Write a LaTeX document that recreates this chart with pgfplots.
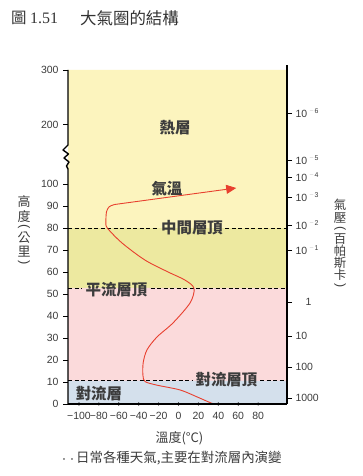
\documentclass[border=0pt]{standalone}
\usepackage{pgfplots}
\pgfplotsset{compat=1.18}
\usepackage{fontspec}
\setmainfont{Liberation Sans}
\newfontfamily\cjk{Noto Sans CJK TC}
\newfontfamily\sernum{Liberation Serif}
\usetikzlibrary{arrows.meta}
\definecolor{thermo}{HTML}{FCF4BE}
\definecolor{meso}{HTML}{EDE9A0}
\definecolor{strato}{HTML}{FBDADB}
\definecolor{tropo}{HTML}{D4E0EC}
\definecolor{tcurve}{HTML}{E8402F}
\definecolor{labgray}{HTML}{3C3C3C}
\newcommand{\pw}[1]{10\hspace{2.5bp}\raisebox{4bp}{\fontsize{7}{8}\selectfont\textcolor{black!22}{\char"2212}\hspace{0.8bp}#1}}
\pgfplotstableread{
x y
37 0
33 0.4
18.3 3.3
1.5 6.4
-21.9 8.6
-33.5 10.2
-35.7 13
-35.5 18.7
-31.7 24.6
-21.6 30.5
-5.5 36.9
11.6 46
15.6 52.6
6.5 56.4
-10.6 60.1
-33.7 65.5
-56.8 73.3
-71.5 80.1
-72.9 83
-72.3 87.5
-69.5 89.8
-64 90.8
}\tempcurve
\begin{document}
\begin{tikzpicture}[x=1bp,y=1bp]
\useasboundingbox (0,0) rectangle (362,476);
\fill[white] (0,0) rectangle (362,476);
\begin{axis}[
  at={(68bp,72bp)}, anchor=south west,
  width=219bp, height=334bp, scale only axis,
  xmin=-111, xmax=109, ymin=0, ymax=152,
  axis on top,
  axis x line*=bottom, axis y line*=left,
  y axis line style={draw=none},
  x axis line style={line width=1.4bp},
  ytick={0,10,...,100,127,152},
  yticklabels={0,10,20,30,40,50,60,70,80,90,100,200,300},
  xtick={-100,-80,...,80},
  xticklabels={−100,−80,−60,−40,−20,0,20,40,60,80},
  tick label style={font=\fontsize{10.5}{12}\selectfont, text=labgray},
  ytick style={black, line width=0.9bp},
  xtick style={draw=none},
  y tick label style={xshift=-1bp},
  major tick length=5bp,
  tick align=outside,
  /pgf/number format/assume math mode=true,
  clip=false,
]
\addplot[draw=none, fill=thermo] coordinates {(-111,80) (109,80) (109,152) (-111,152) (-111,80)};
\addplot[draw=none, fill=meso] coordinates {(-111,52.8) (109,52.8) (109,80) (-111,80) (-111,52.8)};
\addplot[draw=none, fill=strato] coordinates {(-111,10.5) (109,10.5) (109,52.8) (-111,52.8) (-111,10.5)};
\addplot[draw=none, fill=tropo] coordinates {(-111,0) (109,0) (109,10.5) (-111,10.5) (-111,0)};
% layer boundaries
\addplot[black, line width=0.9bp, dash pattern=on 4bp off 2.5bp] coordinates {(-111,80) (-20,80)};
\addplot[black, line width=0.9bp, dash pattern=on 4bp off 2.5bp] coordinates {(47,80) (109,80)};
\addplot[black, line width=0.9bp, dash pattern=on 4bp off 2.5bp] coordinates {(-111,52.8) (-97,52.8)};
\addplot[black, line width=0.9bp, dash pattern=on 4bp off 2.5bp] coordinates {(-28,52.8) (109,52.8)};
\addplot[black, line width=0.9bp, dash pattern=on 4bp off 2.5bp] coordinates {(-111,10.5) (15,10.5)};
\addplot[black, line width=0.9bp, dash pattern=on 4bp off 2.5bp] coordinates {(82,10.5) (109,10.5)};
% temperature
\addplot[tcurve, line width=0.9bp, smooth, tension=0.5] table {\tempcurve};
\addplot[tcurve, line width=0.9bp, -{Triangle[length=10bp,width=9bp]}] coordinates {(-64,90.8) (58,98.3)};
% x tick dots
\addplot[only marks, mark=*, mark size=1.3bp, black] coordinates {(-100,0) (-80,0) (-60,0) (-40,0) (-20,0) (0,0) (20,0) (40,0) (60,0) (80,0)};
% labels
\node[font=\cjk\bfseries\fontsize{15.5}{16}\selectfont, text=labgray] at (axis cs:-3.5,125.6) {熱層};
\node[font=\cjk\bfseries\fontsize{15.5}{16}\selectfont, text=labgray] at (axis cs:-11.6,97.8) {氣溫};
\node[font=\cjk\bfseries\fontsize{15.5}{16}\selectfont, text=labgray] at (axis cs:13.6,80.1) {中間層頂};
\node[font=\cjk\bfseries\fontsize{15.5}{16}\selectfont, text=labgray] at (axis cs:-62.3,51.9) {平流層頂};
\node[font=\cjk\bfseries\fontsize{15.5}{16}\selectfont, text=labgray] at (axis cs:48.2,10.9) {對流層頂};
\node[font=\cjk\bfseries\fontsize{15.5}{16}\selectfont, text=labgray] at (axis cs:-79.9,4.8) {對流層};
\end{axis}
\begin{axis}[
  at={(68bp,72bp)}, anchor=south west,
  width=219bp, height=334bp, scale only axis,
  xmin=-111, xmax=109, ymin=0, ymax=152,
  axis x line=none, axis y line*=right,
  y axis line style={line width=1.1bp},
  ytick={2.7,16.8,30.9,46.4,70,81.4,94.1,103.2,110.9,132.3},
  yticklabels={1000,100,10,\hspace{10bp}1,\pw{1},\pw{2},\pw{3},\pw{4},\pw{5},\pw{6}},
  ytick style={black, line width=0.9bp},
  major tick length=5bp,
  tick align=outside,
  tick label style={font=\fontsize{10.5}{12}\selectfont, text=labgray},
  /pgf/number format/assume math mode=true,
]
\end{axis}
% left axis with break
\draw[black, line width=1.4bp, line join=round] (68,72) -- (68,307) -- (66.5,310) -- (69,314) -- (64,318) -- (68.5,322) -- (63,326) -- (68,331) -- (68,406);
\draw[black, line width=1.1bp] (287,405) -- (287,411);
% axis titles (vertical, one glyph per node)
\begin{scope}[every node/.style={font=\cjk\fontsize{13}{13}\selectfont, text=labgray, inner sep=0}]
\node at (24,274.5) {高};
\node at (24,259.5) {度};
\node[rotate=-90, font=\fontsize{13}{13}\selectfont] at (24,249) {(};
\node at (24,238.5) {公};
\node at (24,224) {里};
\node[rotate=-90, font=\fontsize{13}{13}\selectfont] at (24,213) {)};
\end{scope}
\begin{scope}[every node/.style={font=\cjk\fontsize{12.5}{13}\selectfont, text=labgray, inner sep=0}]
\node at (340,271) {氣};
\node at (340,258) {壓};
\node[rotate=-90, font=\fontsize{12.5}{13}\selectfont] at (340,247.5) {(};
\node at (340,237) {百};
\node at (340,225) {帕};
\node at (340,213) {斯};
\node at (340,201) {卡};
\node[rotate=-90, font=\fontsize{12.5}{13}\selectfont] at (340,190) {)};
\end{scope}
\node[font=\cjk\fontsize{13}{14}\selectfont, text=labgray] at (179.5,38) {溫度(°C)};
\node[font=\cjk\fontsize{13.5}{14}\selectfont, text=labgray, anchor=west, inner sep=0] at (60,18) {{\fontsize{8}{8}\selectfont ••}日常各種天氣,主要在對流層內演變};
% title
\node[font=\cjk\fontsize{15.5}{16}\selectfont, text=black!80, anchor=west, inner sep=0] at (11,458) {圖};
\node[font=\sernum\fontsize{16}{16}\selectfont, text=black!80, anchor=west, inner sep=0] at (30,458) {1.51};
\node[font=\cjk\fontsize{16.5}{17}\selectfont, text=black!80, anchor=west, inner sep=0] at (80,458) {大氣圈的結構};
\end{tikzpicture}
\end{document}
